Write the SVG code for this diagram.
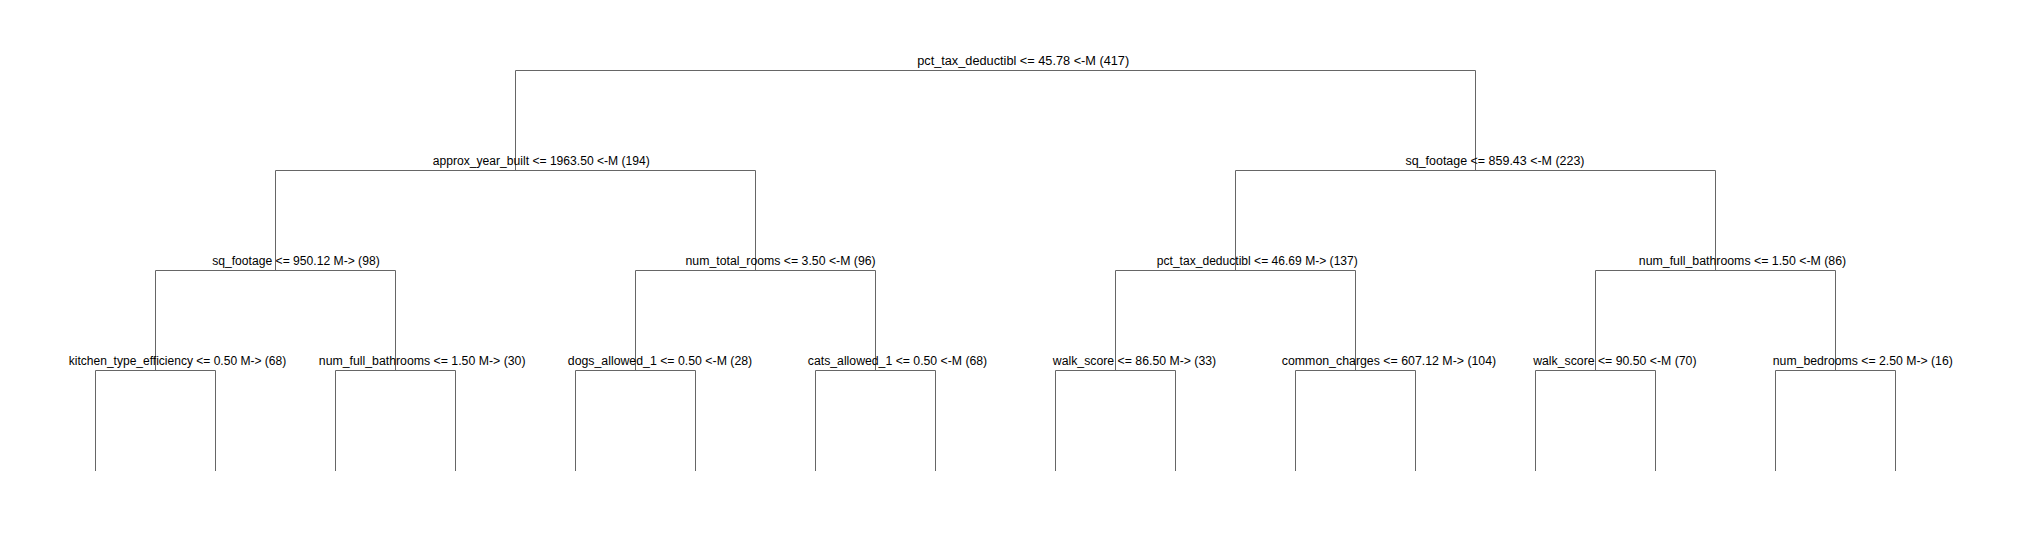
<svg xmlns="http://www.w3.org/2000/svg" width="2021" height="540" viewBox="0 0 2021 540">
<style>
.e{fill:none;stroke:#666666;stroke-width:1}
.t{font-family:"Liberation Sans",Arial,sans-serif;font-size:12px;fill:#000000}
</style>
<rect width="2021" height="540" fill="#ffffff"/>
<g id="connectors">
<path class="e" d="M515.5,170.5V70.5H1475.5V170.5"/>
<path class="e" d="M275.5,270.5V170.5H755.5V270.5"/>
<path class="e" d="M1235.5,270.5V170.5H1715.5V270.5"/>
<path class="e" d="M155.5,370.5V270.5H395.5V370.5"/>
<path class="e" d="M635.5,370.5V270.5H875.5V370.5"/>
<path class="e" d="M1115.5,370.5V270.5H1355.5V370.5"/>
<path class="e" d="M1595.5,370.5V270.5H1835.5V370.5"/>
<path class="e" d="M95.5,471V370.5H215.5V471"/>
<path class="e" d="M335.5,471V370.5H455.5V471"/>
<path class="e" d="M575.5,471V370.5H695.5V471"/>
<path class="e" d="M815.5,471V370.5H935.5V471"/>
<path class="e" d="M1055.5,471V370.5H1175.5V471"/>
<path class="e" d="M1295.5,471V370.5H1415.5V471"/>
<path class="e" d="M1535.5,471V370.5H1655.5V471"/>
<path class="e" d="M1775.5,471V370.5H1895.5V471"/>
</g>
<g id="n1"><text class="t" x="917.2" y="65" textLength="212" lengthAdjust="spacingAndGlyphs">pct_tax_deductibl &lt;= 45.78 &lt;-M (417)</text></g>
<g id="n2"><text class="t" x="432.8" y="165" textLength="217" lengthAdjust="spacingAndGlyphs">approx_year_built &lt;= 1963.50 &lt;-M (194)</text></g>
<g id="n3"><text class="t" x="1405.5" y="165" textLength="179" lengthAdjust="spacingAndGlyphs">sq_footage &lt;= 859.43 &lt;-M (223)</text></g>
<g id="n4"><text class="t" x="212.2" y="265" textLength="167.5" lengthAdjust="spacingAndGlyphs">sq_footage &lt;= 950.12 M-&gt; (98)</text></g>
<g id="n5"><text class="t" x="685.5" y="265" textLength="190.2" lengthAdjust="spacingAndGlyphs">num_total_rooms &lt;= 3.50 &lt;-M (96)</text></g>
<g id="n6"><text class="t" x="1156.8" y="265" textLength="201" lengthAdjust="spacingAndGlyphs">pct_tax_deductibl &lt;= 46.69 M-&gt; (137)</text></g>
<g id="n7"><text class="t" x="1638.8" y="265" textLength="207.4" lengthAdjust="spacingAndGlyphs">num_full_bathrooms &lt;= 1.50 &lt;-M (86)</text></g>
<g id="n8"><text class="t" x="68.8" y="365" textLength="217.4" lengthAdjust="spacingAndGlyphs">kitchen_type_efficiency &lt;= 0.50 M-&gt; (68)</text></g>
<g id="n9"><text class="t" x="318.8" y="365" textLength="206.7" lengthAdjust="spacingAndGlyphs">num_full_bathrooms &lt;= 1.50 M-&gt; (30)</text></g>
<g id="n10"><text class="t" x="567.8" y="365" textLength="184.4" lengthAdjust="spacingAndGlyphs">dogs_allowed_1 &lt;= 0.50 &lt;-M (28)</text></g>
<g id="n11"><text class="t" x="807.8" y="365" textLength="179.4" lengthAdjust="spacingAndGlyphs">cats_allowed_1 &lt;= 0.50 &lt;-M (68)</text></g>
<g id="n12"><text class="t" x="1052.8" y="365" textLength="163.4" lengthAdjust="spacingAndGlyphs">walk_score &lt;= 86.50 M-&gt; (33)</text></g>
<g id="n13"><text class="t" x="1281.8" y="365" textLength="214.4" lengthAdjust="spacingAndGlyphs">common_charges &lt;= 607.12 M-&gt; (104)</text></g>
<g id="n14"><text class="t" x="1533.2" y="365" textLength="163.3" lengthAdjust="spacingAndGlyphs">walk_score &lt;= 90.50 &lt;-M (70)</text></g>
<g id="n15"><text class="t" x="1772.8" y="365" textLength="180" lengthAdjust="spacingAndGlyphs">num_bedrooms &lt;= 2.50 M-&gt; (16)</text></g>
</svg>
